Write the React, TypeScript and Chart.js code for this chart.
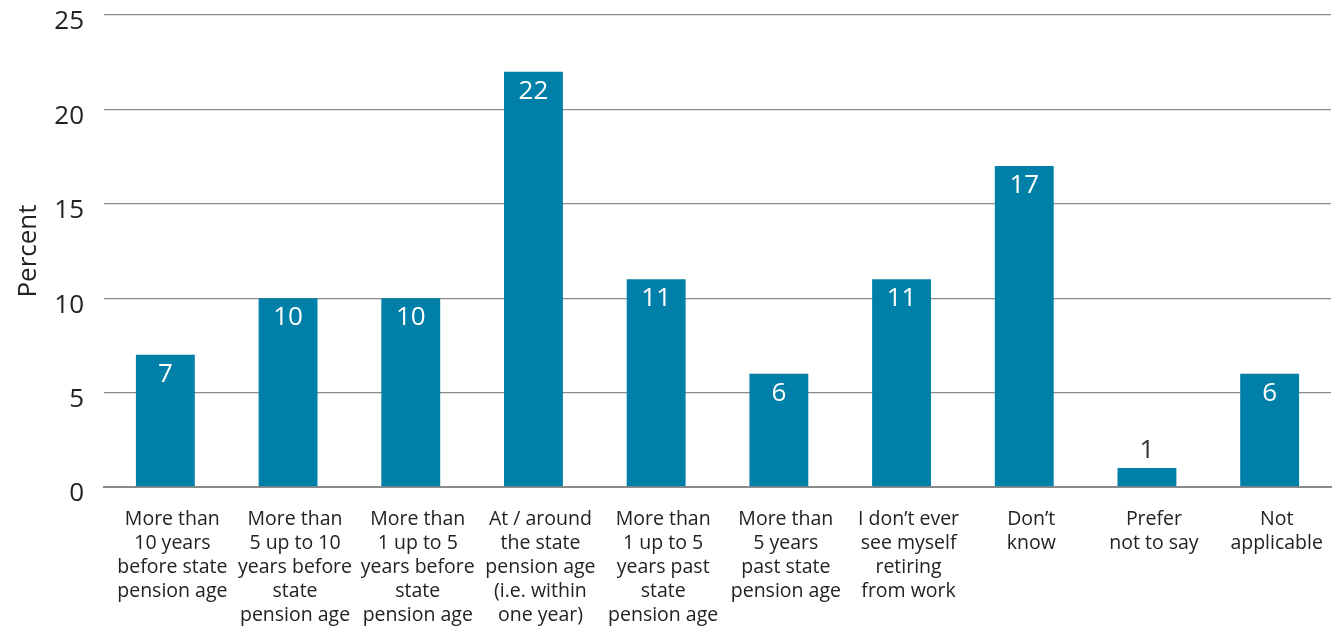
import React, { useEffect, useRef } from "react";
import { Chart, registerables } from "chart.js";

Chart.register(...registerables);

const categories: string[][] = [
  ["More than", "10 years", "before state", "pension age"],
  ["More than", "5 up to 10", "years before", "state", "pension age"],
  ["More than", "1 up to 5", "years before", "state", "pension age"],
  ["At / around", "the state", "pension age", "(i.e. within", "one year)"],
  ["More than", "1 up to 5", "years past", "state", "pension age"],
  ["More than", "5 years", "past state", "pension age"],
  ["I don\u2019t ever", "see myself", "retiring", "from work"],
  ["Don\u2019t", "know"],
  ["Prefer", "not to say"],
  ["Not", "applicable"],
];
const values: number[] = [7, 10, 10, 22, 11, 6, 11, 17, 1, 6];

const FONT = "'Open Sans', 'Noto Sans', sans-serif";
const BAR = "#0080A8";
const TEXT = "#222222";

const valueLabels = {
  id: "valueLabels",
  afterDatasetsDraw(chart: any) {
    const ctx = chart.ctx;
    const meta = chart.getDatasetMeta(0);
    ctx.save();
    ctx.font = `26px ${FONT}`;
    ctx.textAlign = "center";
    ctx.textBaseline = "alphabetic";
    meta.data.forEach((bar: any, i: number) => {
      const v = values[i];
      const h = bar.base - bar.y;
      if (h > 36) {
        ctx.fillStyle = "#ffffff";
        ctx.fillText(String(v), bar.x, bar.y + 27);
      } else {
        ctx.fillStyle = "#333333";
        ctx.fillText(String(v), bar.x, bar.y - 10);
      }
    });
    ctx.restore();
  },
};

export default function App() {
  const ref = useRef<HTMLCanvasElement>(null);
  useEffect(() => {
    document.body.style.margin = "0";
    const chart = new Chart(ref.current!, {
      type: "bar",
      data: {
        labels: categories,
        datasets: [
          {
            data: values,
            backgroundColor: BAR,
            barPercentage: 0.48,
            categoryPercentage: 1,
          },
        ],
      },
      options: {
        animation: false,
        responsive: false,
        maintainAspectRatio: false,
        layout: { padding: { top: 15, right: 6, left: 0, bottom: 0 } },
        plugins: {
          legend: { display: false },
          tooltip: { enabled: false },
        },
        scales: {
          x: {
            grid: { display: false, drawTicks: false },
            border: { color: "#8a8a8a", width: 2 },
            ticks: {
              color: TEXT,
              font: { family: FONT, size: 19.5, lineHeight: 1.22 },
              maxRotation: 0,
              autoSkip: false,
              padding: 21,
              labelOffset: 7,
            },
            afterFit(scale: any) {
              scale.height = 140;
              scale.paddingLeft = 0;
              scale.paddingRight = 0;
            },
          },
          y: {
            min: 0,
            max: 25,
            grid: { color: "#8a8a8a", lineWidth: 1.3, drawTicks: false },
            border: { display: false },
            ticks: {
              stepSize: 5,
              color: TEXT,
              font: { family: FONT, size: 26 },
              padding: 20,
              labelOffset: 7,
            },
            title: {
              display: true,
              text: "Percent",
              color: TEXT,
              font: { family: FONT, size: 26 },
              padding: { top: 13, bottom: 0 },
            },
            afterFit(scale: any) {
              scale.width = 104;
              scale.paddingTop = 0;
              scale.paddingBottom = 0;
            },
          },
        },
      },
      plugins: [valueLabels],
    });
    return () => chart.destroy();
  }, []);
  return (
    <div style={{ position: "fixed", left: 0, top: 0, width: 1337, height: 627 }}>
      <canvas ref={ref} width={1337} height={627} style={{ width: 1337, height: 627 }} />
    </div>
  );
}
